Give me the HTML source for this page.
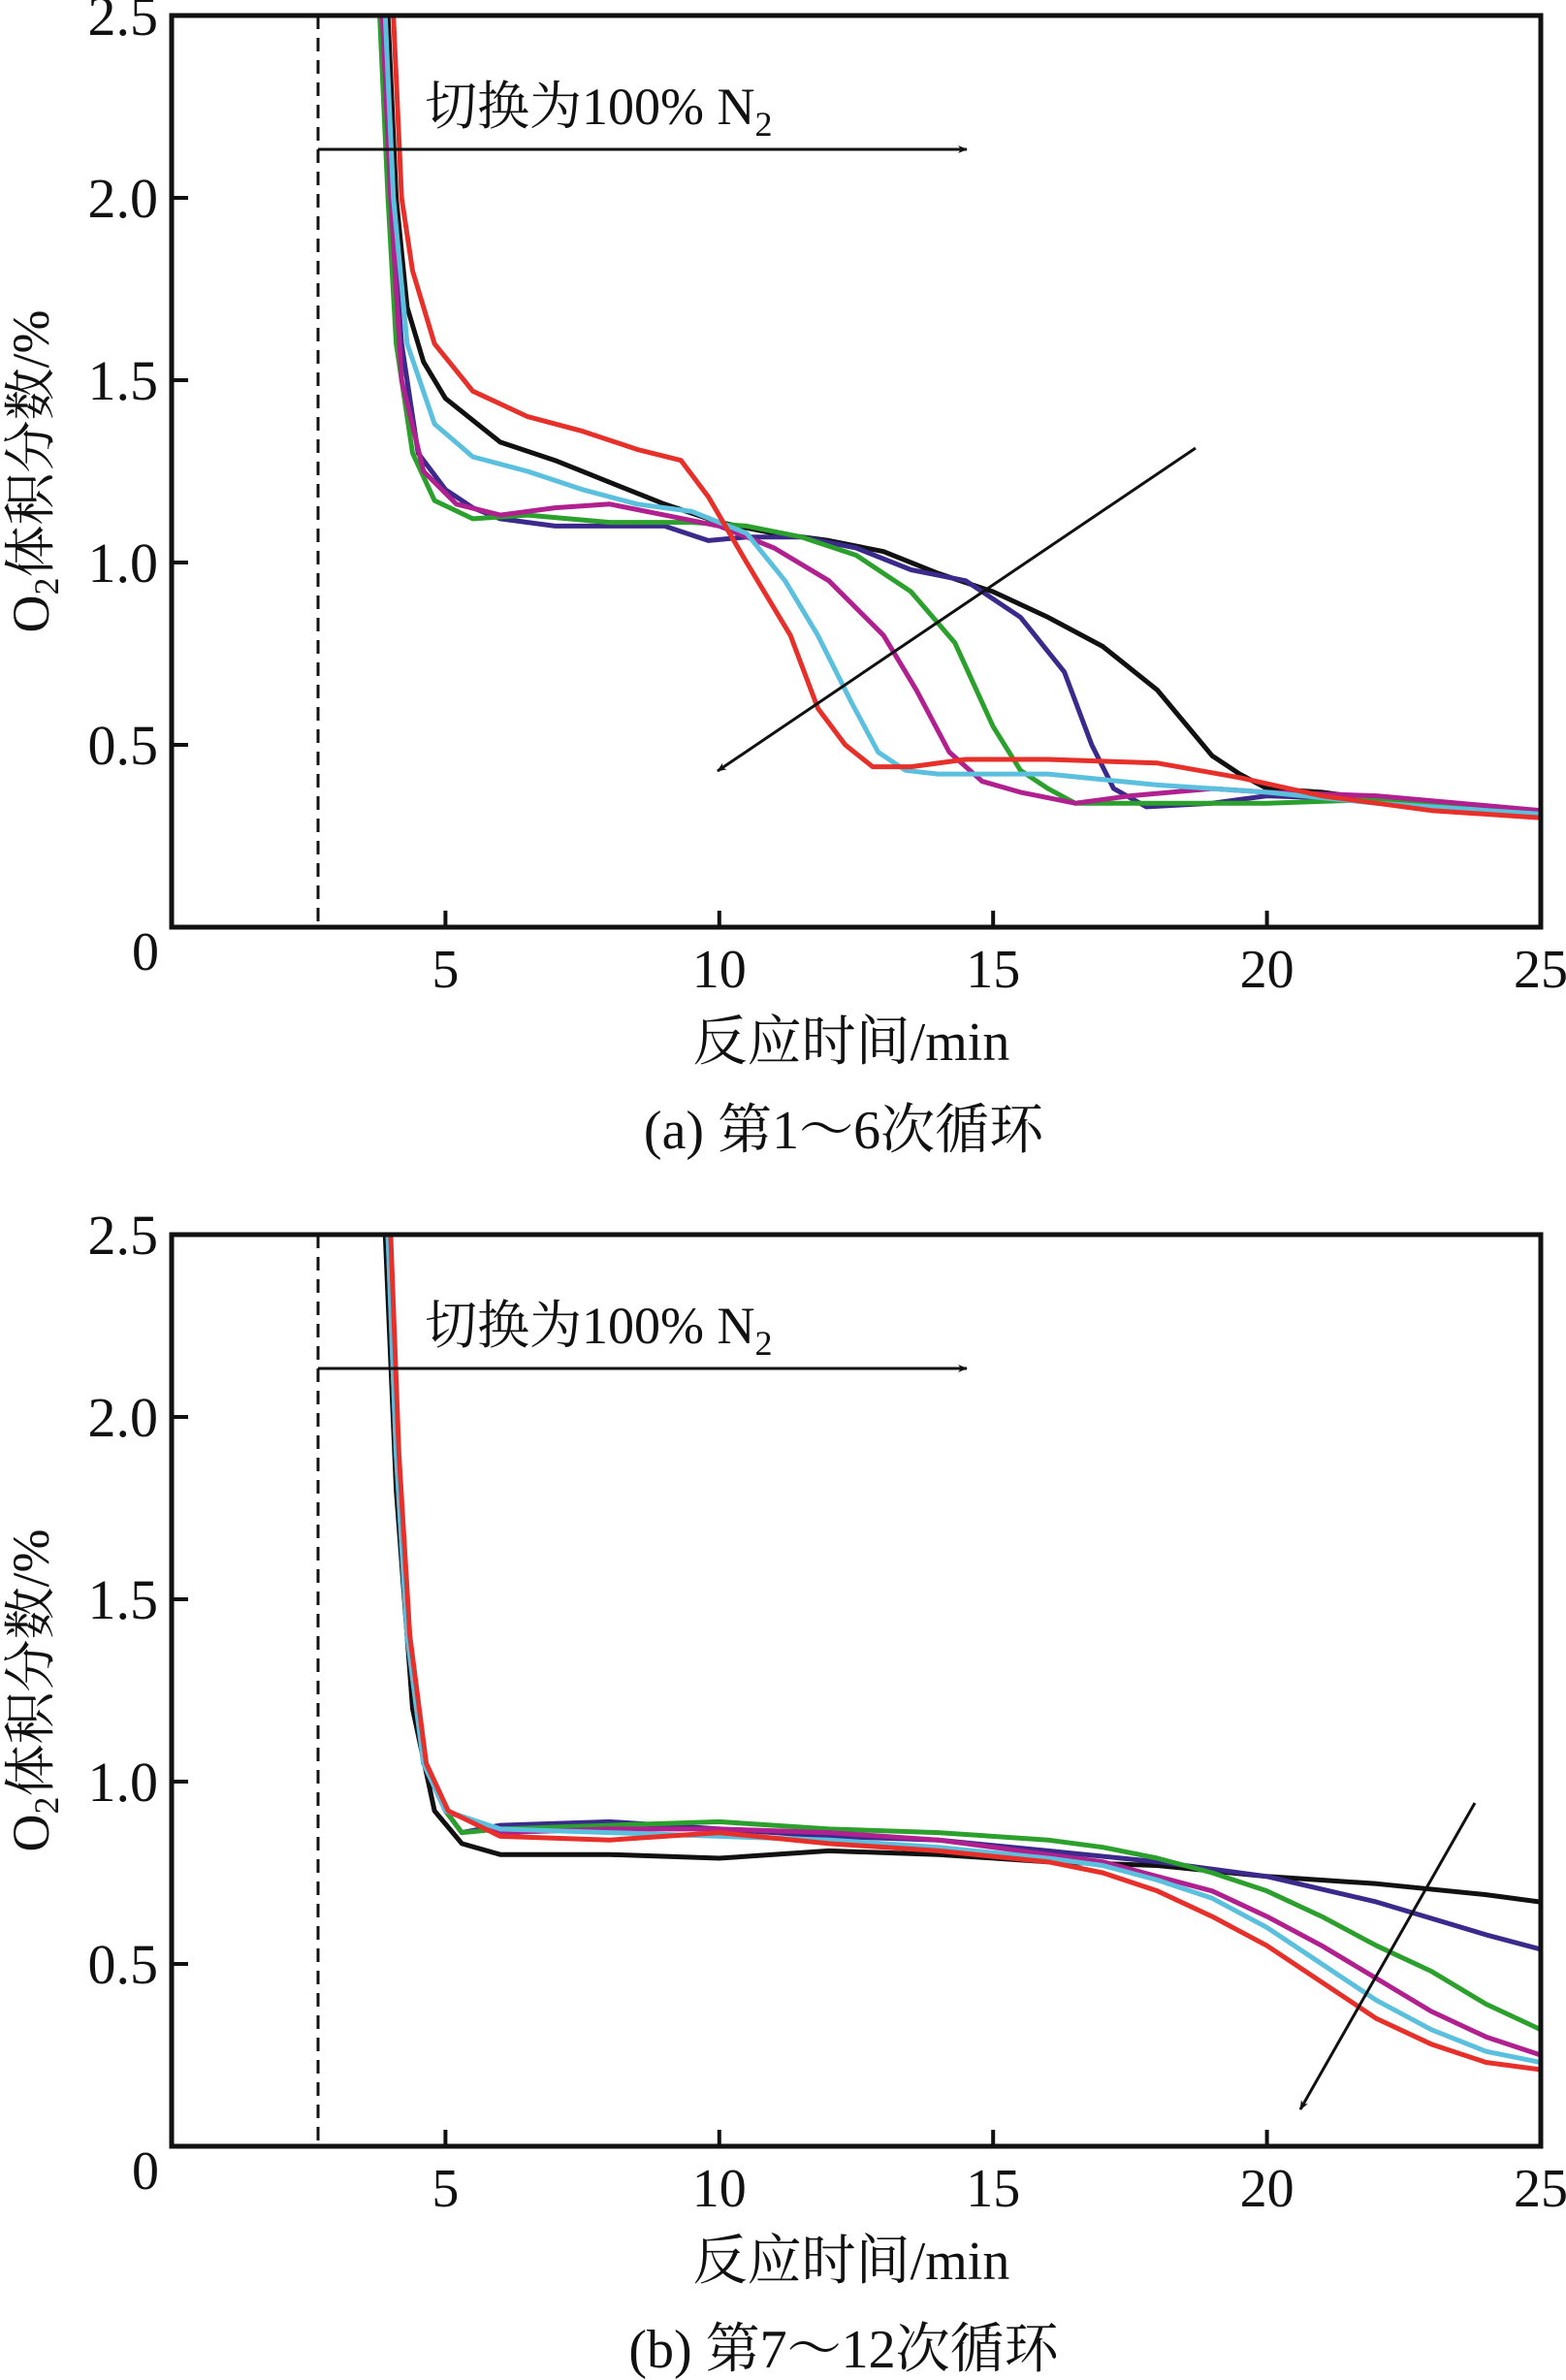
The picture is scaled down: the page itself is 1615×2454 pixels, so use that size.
<!DOCTYPE html>
<html><head><meta charset="utf-8"><style>
body{margin:0;background:#fff}
svg{display:block}
text{font-family:"Liberation Serif","Noto Serif CJK SC",serif;fill:#111}
</style></head><body>
<svg id="chart" width="1615" height="2454" viewBox="0 0 1615 2454" xmlns="http://www.w3.org/2000/svg">
<defs>
<clipPath id="clipA"><rect x="177" y="16" width="1412" height="941"/></clipPath>
<clipPath id="clipB"><rect x="177" y="1273" width="1412" height="941"/></clipPath>
<marker id="ah" markerWidth="10" markerHeight="8" refX="9" refY="4" orient="auto" markerUnits="userSpaceOnUse" viewBox="0 0 10 8"><path d="M0,0 L10,4 L0,8 L3,4 Z" fill="#111"/></marker>
</defs>
<g id="layer"></g>
</svg>
<script>
const xTicks=[5,10,15,20,25];
const yTicks=[0.5,1.0,1.5,2.0,2.5];
const yTickLabels=["0.5","1.0","1.5","2.0","2.5"];
const colors=["#111111","#3b2a8c","#2ca02c","#b0208f","#5bc0de","#e8302a"];
const seriesNames=["cycle-black","cycle-navy","cycle-green","cycle-magenta","cycle-cyan","cycle-red"];
const aX=[
[3.95,4.1,4.3,4.6,5,6,7,8,9,10,11,12,13,14,15,16,17,18,19,19.5,20,21,22,23,25],
[3.85,4.0,4.2,4.5,5,5.5,6,7,8,9,9.8,10.5,11.5,12.5,13.5,14.5,15.5,16.3,16.8,17.2,17.8,19,20,22,25],
[3.8,3.95,4.1,4.4,4.8,5.5,6.5,8,9.5,10.5,11.5,12.5,13.5,14.3,15,15.5,16,16.5,18,20,22,25],
[3.85,4.0,4.2,4.6,5.2,6,7,8,9,10,11,12,13,13.6,14.2,14.8,15.5,16.5,17.5,19,20,22,25],
[3.9,4.05,4.3,4.8,5.5,6.5,7.5,8.5,9.5,10.5,11.2,11.8,12.4,12.9,13.4,14,15,16,18,20,22,25],
[4.05,4.2,4.4,4.8,5.5,6.5,7.5,8.5,9.3,9.8,10.5,11.3,11.8,12.3,12.8,13.5,14.5,16,18,19.5,21,23,25]];
const aY=[
[2.5,2.0,1.7,1.55,1.45,1.33,1.28,1.22,1.16,1.11,1.08,1.06,1.03,0.97,0.92,0.85,0.77,0.65,0.47,0.42,0.38,0.37,0.35,0.34,0.31],
[2.5,2.0,1.6,1.3,1.2,1.15,1.12,1.1,1.1,1.1,1.06,1.07,1.07,1.04,0.98,0.95,0.85,0.70,0.50,0.38,0.33,0.34,0.36,0.35,0.31],
[2.5,2.0,1.6,1.3,1.17,1.12,1.13,1.11,1.11,1.10,1.07,1.02,0.92,0.78,0.55,0.43,0.38,0.34,0.34,0.34,0.35,0.32],
[2.5,2.0,1.5,1.25,1.16,1.13,1.15,1.16,1.13,1.1,1.04,0.95,0.80,0.65,0.48,0.40,0.37,0.34,0.36,0.38,0.37,0.36,0.32],
[2.5,2.0,1.6,1.38,1.29,1.25,1.2,1.16,1.14,1.08,0.95,0.80,0.62,0.48,0.43,0.42,0.42,0.42,0.39,0.37,0.34,0.31],
[2.5,2.0,1.8,1.6,1.47,1.40,1.36,1.31,1.28,1.18,1.0,0.8,0.60,0.50,0.44,0.44,0.46,0.46,0.45,0.41,0.36,0.32,0.30]];
const bX=[
[3.9,4.1,4.4,4.8,5.3,6,8,10,12,14,16,18,20,22,24,25],
[3.95,4.1,4.3,4.6,5,5.3,6,8,10,12,14,16,18,20,22,24,25],
[3.95,4.1,4.3,4.6,5,5.3,6,8,10,12,14,16,17,18,19,20,21,22,23,24,25],
[3.95,4.1,4.3,4.6,5,6,8,10,12,14,16,17,18,19,20,21,22,23,24,25],
[3.95,4.1,4.3,4.6,5,6,8,10,12,14,16,17,18,19,20,21,22,23,24,25],
[4.0,4.15,4.35,4.65,5.05,6,8,10,12,14,16,17,18,19,20,21,22,23,24,25]];
const bY=[
[2.5,1.8,1.2,0.92,0.83,0.8,0.8,0.79,0.81,0.80,0.78,0.77,0.74,0.72,0.69,0.67],
[2.5,1.9,1.4,1.05,0.92,0.86,0.88,0.89,0.87,0.85,0.84,0.81,0.78,0.74,0.67,0.58,0.54],
[2.5,1.9,1.4,1.05,0.92,0.86,0.87,0.88,0.89,0.87,0.86,0.84,0.82,0.79,0.75,0.70,0.63,0.55,0.48,0.39,0.32],
[2.5,1.9,1.4,1.05,0.92,0.86,0.87,0.87,0.86,0.84,0.80,0.78,0.74,0.70,0.63,0.55,0.46,0.37,0.30,0.25],
[2.5,1.9,1.4,1.05,0.92,0.87,0.86,0.85,0.84,0.82,0.79,0.77,0.73,0.68,0.60,0.50,0.40,0.32,0.26,0.23],
[2.5,1.9,1.4,1.05,0.92,0.85,0.84,0.86,0.83,0.81,0.78,0.75,0.70,0.63,0.55,0.45,0.35,0.28,0.23,0.21]];
const NS="http://www.w3.org/2000/svg";
const L=177,R=1589,H=940;
const layer=document.getElementById('layer');
function sx(v){return L+(R-L)*v/25;}
function mk(tag,attrs,parent){const e=document.createElementNS(NS,tag);for(const k in attrs)e.setAttribute(k,attrs[k]);(parent||layer).appendChild(e);return e;}
function panel(top,xs,ys,clip,tag,caption,arrow){
  const g=mk('g',{});
  
  
  const sy=v=>top+H-H*v/2.5;
  const lines=mk('g',{'clip-path':'url(#'+clip+')'},g);
  xs.forEach((xa,i)=>{
    const d=xa.map((x,j)=>(j?'L':'M')+sx(x).toFixed(1)+','+sy(ys[i][j]).toFixed(1)).join(' ');
    const p=mk('path',{d:d,fill:'none',stroke:colors[i],'stroke-width':5,'stroke-linejoin':'round'},lines);
    
    
  });
  const dl=mk('line',{x1:328,y1:top,x2:328,y2:top+H,stroke:'#111','stroke-width':3,'stroke-dasharray':'14,9'},g);
  
  
  const fr=mk('rect',{x:L,y:top,width:R-L,height:H,fill:'none',stroke:'#111','stroke-width':5},g);
  
  
  xTicks.forEach(t=>{
    mk('line',{x1:sx(t),y1:top+H,x2:sx(t),y2:top+H-17,stroke:'#111','stroke-width':4},g);
    const tx=mk('text',{x:sx(t),y:top+H+62,'text-anchor':'middle','font-size':56},g);
    tx.textContent=t;
    
    
  });
  const z=mk('text',{x:150,y:top+H+44,'text-anchor':'middle','font-size':56},g);z.textContent='0';
  
  
  yTicks.forEach((t,i)=>{
    mk('line',{x1:L,y1:sy(t),x2:L+17,y2:sy(t),stroke:'#111','stroke-width':4},g);
    const tx=mk('text',{x:163,y:sy(t)+20,'text-anchor':'end','font-size':58},g);
    tx.textContent=yTickLabels[i];
    
    
  });
  const yl=mk('text',{x:0,y:0,'text-anchor':'middle','font-size':54,transform:'translate(50,'+(top+470)+') rotate(-90)'},g);
  yl.innerHTML='O<tspan font-size="36" dy="10">2</tspan><tspan dy="-10">体积分数/%</tspan>';
  
  
  const xl=mk('text',{x:878,y:top+H+137,'text-anchor':'middle','font-size':56},g);
  xl.textContent='反应时间/min';
  
  
  const cp=mk('text',{x:870,y:top+H+228,'text-anchor':'middle','font-size':56},g);
  cp.textContent=caption;
  
  
  const an=mk('text',{x:438,y:top+112,'font-size':54},g);
  an.innerHTML='切换为100% N<tspan font-size="36" dy="12">2</tspan>';
  
  
  const ha=mk('line',{x1:328,y1:top+138,x2:997,y2:top+138,stroke:'#111','stroke-width':3,'marker-end':'url(#ah)'},g);
  
  
  const da=mk('line',{x1:arrow[0],y1:arrow[1],x2:arrow[2],y2:arrow[3],stroke:'#111','stroke-width':3,'marker-end':'url(#ah)'},g);
  
  
}
panel(16,aX,aY,'clipA','a','(a) 第1～6次循环',[1233,462,740,795]);
panel(1273,bX,bY,'clipB','b','(b) 第7～12次循环',[1521,1859,1341,2175]);
</script>
</body></html>
